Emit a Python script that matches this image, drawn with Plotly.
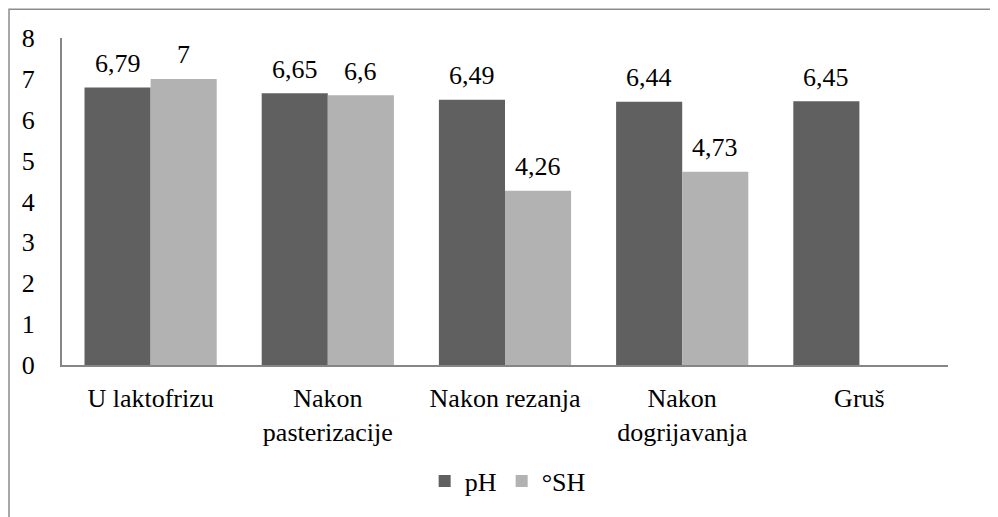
import plotly.graph_objects as go

categories = ["U laktofrizu", "Nakon<br>pasterizacije", "Nakon rezanja", "Nakon<br>dogrijavanja", "Gruš"]
ph_values = [6.79, 6.65, 6.49, 6.44, 6.45]
sh_values = [7, 6.6, 4.26, 4.73, None]
y_ticks = [0, 1, 2, 3, 4, 5, 6, 7, 8]

FONT = "Liberation Serif"
FS = 26
DARK = "#606060"
LIGHT = "#b2b2b2"

fig = go.Figure()
fig.add_trace(go.Bar(x=categories, y=ph_values, name="pH", marker=dict(color=DARK, line=dict(width=0))))
fig.add_trace(go.Bar(x=categories, y=sh_values, name="°SH", marker=dict(color=LIGHT, line=dict(width=0))))

def fmt(v):
    return ("%g" % v).replace(".", ",")

annotations = []
for cat, v in zip(categories, ph_values):
    if v is not None:
        annotations.append(dict(x=cat, y=v, text=fmt(v), showarrow=False, xshift=-33, yshift=24,
                                yanchor="middle", font=dict(family=FONT, size=FS, color="#000")))
for cat, v in zip(categories, sh_values):
    if v is not None:
        annotations.append(dict(x=cat, y=v, text=fmt(v), showarrow=False, xshift=33, yshift=24,
                                yanchor="middle", font=dict(family=FONT, size=FS, color="#000")))

fig.update_layout(
    width=990, height=509,
    margin=dict(l=54, r=50, t=30, b=149),
    paper_bgcolor="white", plot_bgcolor="white",
    font=dict(family=FONT, size=FS, color="#000"),
    barmode="group", bargap=0.254, bargroupgap=0,
    showlegend=True,
    legend=dict(orientation="h", x=0.503, xanchor="center", y=-0.355, yanchor="middle",
                font=dict(family=FONT, size=FS), itemwidth=30, traceorder="normal"),
    annotations=annotations,
    shapes=[dict(type="rect", xref="paper", yref="paper", x0=-0.0598, x1=1.3, y0=-1.0, y1=1.088,
                 line=dict(color="#8c8c8c", width=1.5), fillcolor="rgba(0,0,0,0)", layer="below")],
)
fig.update_xaxes(showline=True, linecolor="#868686", linewidth=2, ticks="", showgrid=False,
                 tickfont=dict(family=FONT, size=FS), ticklabelstandoff=9)
fig.update_yaxes(range=[0, 8], tickvals=y_ticks, showline=True, linecolor="#868686", linewidth=2,
                 ticks="", showgrid=False, zeroline=False, tickfont=dict(family=FONT, size=FS),
                 ticklabelstandoff=20)

fig.write_html("out.html")
